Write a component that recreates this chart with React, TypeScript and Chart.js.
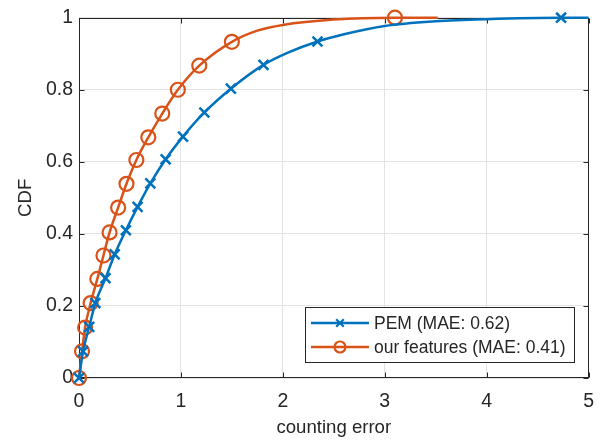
import React, { useEffect, useRef } from 'react';
import { Chart, registerables } from 'chart.js';
Chart.register(...registerables);

const xTicks = [0, 1, 2, 3, 4, 5];
const yTicks = [0, 0.2, 0.4, 0.6, 0.8, 1];
const yTickLabels = ['0', '0.2', '0.4', '0.6', '0.8', '1'];
const xTickLabels = ['0', '1', '2', '3', '4', '5'];

const seriesLabels = ['PEM (MAE: 0.62)', 'our features (MAE: 0.41)'];

const pemMarkerX = [0, 0.04, 0.1, 0.16, 0.26, 0.35, 0.46, 0.575, 0.7, 0.85, 1.02, 1.23, 1.49, 1.81, 2.34, 4.73];
const pemMarkerY = [0, 0.074, 0.142, 0.208, 0.277, 0.343, 0.41, 0.475, 0.54, 0.607, 0.67, 0.737, 0.803, 0.869, 0.934, 1.0];
const pemLineX = [2.05, 2.6, 3.0, 3.5, 4.0, 5.0];
const pemLineY = [0.903, 0.954, 0.977, 0.99, 0.996, 1.0];

const oursMarkerX = [0, 0.03, 0.06, 0.114, 0.18, 0.24, 0.3, 0.384, 0.466, 0.563, 0.68, 0.817, 0.97, 1.18, 1.5, 3.1];
const oursMarkerY = [0, 0.074, 0.14, 0.208, 0.275, 0.34, 0.404, 0.473, 0.539, 0.605, 0.668, 0.734, 0.8, 0.867, 0.933, 1.0];
const oursLineX = [1.75, 2.0, 2.5, 3.52];
const oursLineY = [0.964, 0.98, 0.995, 1.0];

const BLUE = '#0072BD';
const ORANGE = '#D95319';
const AXIS = '#262626';
const FONT = '"Liberation Sans", Arial, Helvetica, sans-serif';

function merge(mx: number[], my: number[], lx: number[], ly: number[]) {
  const pts = mx.map((x, i) => ({ x, y: my[i], m: true }))
    .concat(lx.map((x, i) => ({ x, y: ly[i], m: false })));
  pts.sort((a, b) => a.x - b.x);
  return pts;
}

const boxPlugin = {
  id: 'matlabBox',
  beforeDatasetsDraw(chart: any) {
    const { ctx, chartArea: a, scales } = chart;
    ctx.save();
    ctx.strokeStyle = AXIS;
    ctx.lineWidth = 1;
    const L = Math.round(a.left) + 0.5, R = Math.round(a.right) - 0.5;
    const T = Math.round(a.top) + 0.5, B = Math.round(a.bottom) - 0.5;
    ctx.strokeRect(L, T, R - L, B - T);
    const tl = 5;
    ctx.beginPath();
    xTicks.forEach((v) => {
      const px = Math.round(scales.x.getPixelForValue(v)) + 0.5;
      ctx.moveTo(px, B); ctx.lineTo(px, B - tl);
      ctx.moveTo(px, T); ctx.lineTo(px, T + tl);
    });
    yTicks.forEach((v) => {
      const py = Math.round(scales.y.getPixelForValue(v)) + 0.5;
      ctx.moveTo(L, py); ctx.lineTo(L + tl, py);
      ctx.moveTo(R, py); ctx.lineTo(R - tl, py);
    });
    ctx.stroke();
    ctx.restore();
  },
  afterDraw(chart: any) {
    const { ctx, chartArea: a } = chart;
    ctx.save();
    ctx.font = `17.5px ${FONT}`;
    const tw = Math.max(...seriesLabels.map((s) => ctx.measureText(s).width));
    const lineLen = 58, padL = 6, gap = 5, padR = 8;
    const w = padL + lineLen + gap + tw + padR;
    const h = 55;
    const right = a.right - 15;
    const bottom = a.bottom - 16;
    const left = right - w, top = bottom - h;
    ctx.fillStyle = '#ffffff';
    ctx.fillRect(left, top, w, h);
    ctx.strokeStyle = AXIS;
    ctx.lineWidth = 1;
    ctx.strokeRect(Math.round(left) + 0.5, Math.round(top) + 0.5, Math.round(w), Math.round(h));
    const colors = [BLUE, ORANGE];
    seriesLabels.forEach((s, i) => {
      const cy = top + 16 + i * 24;
      const x0 = left + padL, x1 = x0 + lineLen, cx = (x0 + x1) / 2;
      ctx.strokeStyle = colors[i];
      ctx.lineWidth = 2.5;
      ctx.beginPath(); ctx.moveTo(x0, cy); ctx.lineTo(x1, cy); ctx.stroke();
      ctx.lineWidth = 2.2;
      if (i === 0) {
        const r = 3.8;
        ctx.beginPath();
        ctx.moveTo(cx - r, cy - r); ctx.lineTo(cx + r, cy + r);
        ctx.moveTo(cx - r, cy + r); ctx.lineTo(cx + r, cy - r);
        ctx.stroke();
      } else {
        ctx.beginPath(); ctx.arc(cx, cy, 5.5, 0, Math.PI * 2); ctx.stroke();
      }
      ctx.fillStyle = AXIS;
      ctx.textBaseline = 'middle';
      ctx.textAlign = 'left';
      ctx.fillText(s, x1 + gap, cy + 1);
    });
    ctx.restore();
  },
};

export default function App() {
  const ref = useRef<HTMLCanvasElement>(null);
  useEffect(() => {
    if (!ref.current) return;
    const chart = new Chart(ref.current, {
      type: 'line',
      data: {
        datasets: [
          {
            label: seriesLabels[0],
            data: merge(pemMarkerX, pemMarkerY, pemLineX, pemLineY) as any,
            borderColor: BLUE,
            backgroundColor: BLUE,
            borderWidth: 2.5,
            cubicInterpolationMode: 'monotone',
            pointStyle: 'crossRot',
            pointRadius: (c: any) => (c.raw && c.raw.m ? 7 : 0),
            pointBorderWidth: 2.5,
            pointBorderColor: BLUE,
            pointBackgroundColor: BLUE,
            pointHoverRadius: 0,
            clip: false as any,
          },
          {
            label: seriesLabels[1],
            data: merge(oursMarkerX, oursMarkerY, oursLineX, oursLineY) as any,
            borderColor: ORANGE,
            backgroundColor: 'rgba(0,0,0,0)',
            borderWidth: 2.5,
            cubicInterpolationMode: 'monotone',
            pointStyle: 'circle',
            pointRadius: (c: any) => (c.raw && c.raw.m ? 7 : 0),
            pointBorderWidth: 2.2,
            pointBorderColor: ORANGE,
            pointBackgroundColor: 'rgba(0,0,0,0)',
            pointHoverRadius: 0,
            clip: false as any,
          },
        ],
      },
      options: {
        responsive: false,
        animation: false,
        events: [],
        layout: { padding: { top: 12, right: 15, left: 0, bottom: 0 } },
        plugins: { legend: { display: false }, tooltip: { enabled: false } },
        scales: {
          x: {
            type: 'linear',
            min: 0,
            max: 5,
            afterBuildTicks: (s: any) => { s.ticks = xTicks.map((v) => ({ value: v })); },
            afterFit: (s: any) => { s.height = 63; },
            grid: { color: '#e3e3e3', drawTicks: false, lineWidth: 1 },
            border: { display: false },
            ticks: {
              color: AXIS, font: { family: FONT, size: 19.5 }, padding: 12, maxRotation: 0, autoSkip: false,
              callback: (v: any) => xTickLabels[xTicks.indexOf(Number(v))] ?? String(v),
            },
            title: { display: true, text: 'counting error', color: AXIS, font: { family: FONT, size: 18.6 }, padding: { top: 0, bottom: 2 } },
          },
          y: {
            type: 'linear',
            min: 0,
            max: 1,
            afterBuildTicks: (s: any) => { s.ticks = yTicks.map((v) => ({ value: v })); },
            afterFit: (s: any) => { s.width = 79; },
            grid: { color: '#e3e3e3', drawTicks: false, lineWidth: 1 },
            border: { display: false },
            ticks: {
              color: AXIS, font: { family: FONT, size: 19.5 }, padding: 6, autoSkip: false,
              callback: (v: any) => {
                const i = yTicks.findIndex((t) => Math.abs(t - Number(v)) < 1e-9);
                return i >= 0 ? yTickLabels[i] : String(v);
              },
            },
            title: { display: true, text: 'CDF', color: AXIS, font: { family: FONT, size: 18.6 }, padding: { top: 15, bottom: 0 } },
          },
        },
      },
      plugins: [boxPlugin],
    });
    return () => chart.destroy();
  }, []);
  return (
    <div style={{ position: 'fixed', left: 0, top: 0, width: 606, height: 441, background: '#fff' }}>
      <canvas ref={ref} width={606} height={441} />
    </div>
  );
}
